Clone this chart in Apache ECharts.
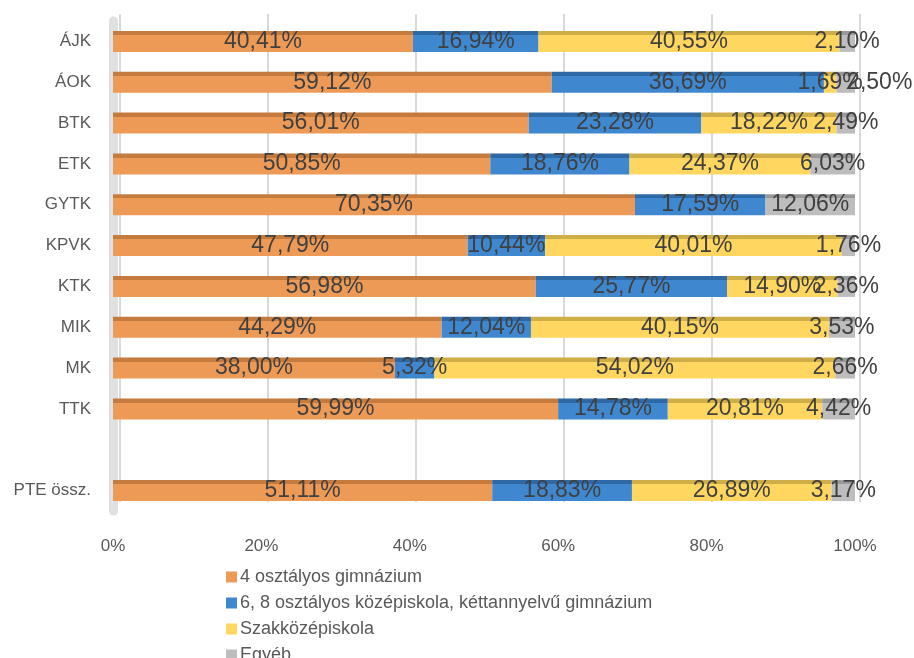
<!DOCTYPE html>
<html>
<head>
<meta charset="utf-8">
<script src="https://cdn.jsdelivr.net/npm/echarts@6/dist/echarts.min.js"></script>
<style>html,body{margin:0;padding:0;background:#fff}#c{width:914px;height:658px}</style>
</head>
<body>
<div id="c"></div>
<script>
const categories = ['ÁJK','ÁOK','BTK','ETK','GYTK','KPVK','KTK','MIK','MK','TTK','','PTE össz.'];
const seriesNames = ['4 osztályos gimnázium','6, 8 osztályos középiskola, kéttannyelvű gimnázium','Szakközépiskola','Egyéb'];
const gimn4 = [40.41,59.12,56.01,50.85,70.35,47.79,56.98,44.29,38.00,59.99,null,51.11];
const kozep68 = [16.94,36.69,23.28,18.76,17.59,10.44,25.77,12.04,5.32,14.78,null,18.83];
const szakkozep = [40.55,1.69,18.22,24.37,null,40.01,14.90,40.15,54.02,20.81,null,26.89];
const egyeb = [2.10,2.50,2.49,6.03,12.06,1.76,2.36,3.53,2.66,4.42,null,3.17];
const xTicks = [0,20,40,60,80,100];

const colors = [
  {main:'#EE9A57', top:'#C57A3E'},
  {main:'#3F88D0', top:'#2E69A6'},
  {main:'#FFD660', top:'#CFAE48'},
  {main:'#BDBDBD', top:'#999999'}
];
function grad(c){
  return new echarts.graphic.LinearGradient(0,0,0,1,[
    {offset:0,color:c.top},{offset:0.2,color:c.top},
    {offset:0.2,color:c.main},{offset:1,color:c.main}
  ]);
}
const fmt = p => p.value == null ? '' : p.value.toFixed(2).replace('.', ',') + '%';
const allData = [gimn4, kozep68, szakkozep, egyeb];

const series = allData.map((arr, i) => ({
  name: seriesNames[i],
  type: 'bar',
  stack: 'total',
  xAxisIndex: 1, yAxisIndex: 1,
  barWidth: 21,
  itemStyle: {color: grad(colors[i])},
  label: {show: true, position: 'inside', formatter: fmt, color: '#404040',
          fontSize: 23, fontFamily: 'Liberation Sans'},
  data: arr.map((v, j) => (i === 3 && j === 1) ? {value: v, label: {offset: [34, 0]}} : v)
}));

const chart = echarts.init(document.getElementById('c'), null, {renderer: 'canvas'});
chart.setOption({
  animation: false,
  color: colors.map(c => c.main),
  textStyle: {fontFamily: 'Liberation Sans'},
  grid: [
    {left: 120, right: 54, top: 14, bottom: 156},
    {left: 113, right: 59, top: 21, bottom: 147}
  ],
  xAxis: [
    {gridIndex: 0, type: 'value', min: 0, max: 100, interval: 20,
     axisLabel: {show: false}, axisLine: {show: false}, axisTick: {show: false},
     splitLine: {show: true, lineStyle: {color: '#D9D9D9', width: 2}}},
    {gridIndex: 1, type: 'value', min: xTicks[0], max: xTicks[xTicks.length-1], interval: 20,
     axisLabel: {formatter: '{value}%', color: '#595959', fontSize: 17, margin: 27},
     axisLine: {show: false}, axisTick: {show: false}, splitLine: {show: false}}
  ],
  yAxis: [
    {gridIndex: 0, type: 'category', data: categories, show: false},
    {gridIndex: 1, type: 'category', data: categories, inverse: true,
     axisLabel: {color: '#595959', fontSize: 17, margin: 22},
     axisTick: {show: false},
     axisLine: {show: true, lineStyle: {color: '#E0E0E0', width: 9}}}
  ],
  legend: {
    orient: 'vertical', left: 226, top: 568, padding: 0, height: 100,
    itemWidth: 11, itemHeight: 11, itemGap: 8,
    icon: 'rect',
    textStyle: {color: '#595959', fontSize: 18, lineHeight: 17, padding: [0, 0, 0, -2]},
    data: seriesNames.map((n, i) => ({name: n, itemStyle: {color: colors[i].main}}))
  },
  series: series
});
</script>
</body>
</html>
